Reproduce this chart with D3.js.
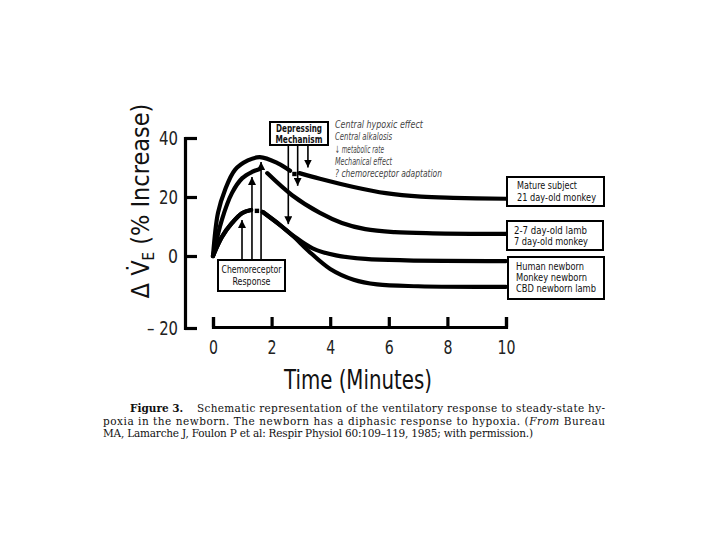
<!DOCTYPE html>
<html>
<head>
<meta charset="utf-8">
<script src="https://cdn.jsdelivr.net/npm/d3@7"></script>
<style>
  body { margin: 0; background: #fff; }
  svg { display: block; }
  .sans { font-family: "DejaVu Sans Condensed", "Liberation Sans", sans-serif; }
  .serif { font-family: "DejaVu Serif", "Liberation Serif", serif; }
</style>
</head>
<body>
<svg id="chart" width="720" height="540"></svg>
<script>
// 数据（时间：分钟，数值：通气量增加百分比）
const xTicks = [0, 2, 4, 6, 8, 10];
const yTicks = [-20, 0, 20, 40];

// null 表示曲线中的断开处
const matureSubject = [[0, 0], [0.17, 14.6], [0.41, 22.4], [0.75, 29.2], [1.19, 32.4], [1.6, 33.5], [2.2, 31.5], [2.63, 28.9],
  null, [2.95, 28.1], [3.65, 26.2], [4.8, 23.4], [5.9, 21.3], [7.1, 20.1], [8.2, 19.7], [10, 19.4]];
const lambMonkey = [[0, 0], [0.3, 12.2], [0.65, 21.4], [1.0, 26.4], [1.33, 28.5], [1.6, 29.5],
  null, [1.85, 28.1], [2.7, 20.6], [3.65, 14.6], [4.4, 11.2], [5.2, 9.1], [6.2, 8.1], [7.5, 7.7], [10, 7.5]];
const humanNewborn = [[0, 0], [0.3, 6.4], [0.65, 11.2], [1.0, 14.6], [1.3, 15.6],
  null, [1.7, 14.9], [2.3, 10.4], [2.75, 6.8], [3.4, 2.6], [4.2, 0.2], [5.2, -0.8], [6.6, -1.2], [10, -1.4]];
const cbdLamb = [[0, 0], [0.3, 6.4], [0.65, 11.2], [1.0, 14.6], [1.3, 15.6],
  null, [1.7, 14.9], [2.3, 10.4], [2.75, 6.6], [3.25, 1.8], [4.0, -3.6], [4.8, -6.6], [5.6, -7.9], [7.0, -8.4], [10, -8.6]];

// 曲线断开处的小方块
const breakMarks = [[2.78, 27.8], [1.5, 15.3]];

// 箭头：[t, 起点值, 终点值]
const chemoArrows = [[0.99, -1.1, 12.2], [1.33, -1.1, 26.8], [1.64, -1.1, 31.9]];
const depressArrows = [[2.57, 37.6, 10.8], [2.89, 37.6, 23.8], [3.24, 37.6, 30.0]];

const depressList = ["Central hypoxic effect", "Central alkalosis", "↓ metabolic rate", "Mechanical effect", "? chemoreceptor adaptation"];
const depressWidths = [88, 57, 49, 57, 107];
const legendGroups = [
  ["Mature subject", "21 day-old monkey"],
  ["2-7 day-old lamb", "7 day-old monkey"],
  ["Human newborn", "Monkey newborn", "CBD newborn lamb"]
];
const legendWidths = [[60, 79], [73, 74], [68, 71, 80]];

const svg = d3.select("#chart");

// 把文字压到指定宽度（原图是窄体字）
function fit(sel, w) {
    return sel.attr("textLength", w).attr("lengthAdjust", "spacingAndGlyphs");
}

// 比例尺（纵轴负值部分间距不同，用分段线性）
const x = d3.scaleLinear().domain([0, 10]).range([213, 506]);
const y = d3.scaleLinear().domain([-20, 0, 40]).range([328, 256, 138]);

// 纵轴
const yAxis = svg.append("g")
    .attr("class", "sans")
    .attr("transform", "translate(185,0)")
    .call(d3.axisLeft(y).tickValues(yTicks).tickSize(-12).tickSizeOuter(-12).tickPadding(7)
        .tickFormat(d => d < 0 ? "– " + Math.abs(d) : d));
yAxis.selectAll("path, line").attr("stroke", "#000").attr("stroke-width", 3.2);
yAxis.selectAll("text").attr("font-size", 19).attr("fill", "#222")
    .each(function (d) { fit(d3.select(this), d < 0 ? 31 : (d === 0 ? 10 : 19)); });

// 横轴
const xAxis = svg.append("g")
    .attr("class", "sans")
    .attr("transform", "translate(0,327)")
    .call(d3.axisBottom(x).tickValues(xTicks).tickSize(-10).tickSizeOuter(-10).tickPadding(14));
xAxis.selectAll("path, line").attr("stroke", "#000").attr("stroke-width", 3.2);
xAxis.selectAll("text").attr("font-size", 19).attr("fill", "#222")
    .each(function (d) { fit(d3.select(this), d >= 10 ? 18 : 9); });

// 轴标题
fit(svg.append("text")
    .attr("class", "sans")
    .attr("x", 358).attr("y", 389)
    .attr("text-anchor", "middle")
    .attr("font-size", 26)
    .attr("fill", "#111")
    .text("Time (Minutes)"), 148);

const yTitle = svg.append("text")
    .attr("class", "sans")
    .attr("transform", "translate(149,201) rotate(-90)")
    .attr("text-anchor", "middle")
    .attr("font-size", 25)
    .attr("fill", "#111");
yTitle.append("tspan").text("Δ  V\u0307");
yTitle.append("tspan").attr("font-size", 15).attr("dy", 5).text("E");
yTitle.append("tspan").attr("dy", -5).text("  (% Increase)");

// 曲线
const line = d3.line()
    .defined(d => d !== null)
    .x(d => x(d[0]))
    .y(d => y(d[1]))
    .curve(d3.curveCatmullRom.alpha(0.5));

[matureSubject, lambMonkey, humanNewborn, cbdLamb].forEach(series => {
    svg.append("path")
        .attr("d", line(series))
        .attr("fill", "none")
        .attr("stroke", "#000")
        .attr("stroke-width", 4.2)
        .attr("stroke-linecap", "round");
});

svg.selectAll(".break-mark")
    .data(breakMarks)
    .enter().append("rect")
    .attr("class", "break-mark")
    .attr("x", d => x(d[0]) - 2.2)
    .attr("y", d => y(d[1]) - 2.2)
    .attr("width", 4.4)
    .attr("height", 4.4)
    .attr("fill", "#000");

// 箭头标记
svg.append("defs").append("marker")
    .attr("id", "arrow")
    .attr("markerUnits", "userSpaceOnUse")
    .attr("viewBox", "0 0 10 10")
    .attr("refX", 10).attr("refY", 5)
    .attr("markerWidth", 8).attr("markerHeight", 8)
    .attr("orient", "auto")
    .append("path")
    .attr("d", "M0,0L10,5L0,10Z")
    .attr("fill", "#000");

svg.selectAll(".arrow")
    .data(chemoArrows.concat(depressArrows))
    .enter().append("line")
    .attr("class", "arrow")
    .attr("x1", d => x(d[0])).attr("x2", d => x(d[0]))
    .attr("y1", d => y(d[1])).attr("y2", d => y(d[2]))
    .attr("stroke", "#000")
    .attr("stroke-width", 1.6)
    .attr("marker-end", "url(#arrow)");

// 标注框
function labelBox(x0, y0, w, h, lines, widths, opts) {
    const g = svg.append("g").attr("class", "sans");
    g.append("rect")
        .attr("x", x0).attr("y", y0).attr("width", w).attr("height", h)
        .attr("fill", "#fff").attr("stroke", "#000").attr("stroke-width", 2);
    lines.forEach((t, i) => {
        fit(g.append("text")
            .attr("x", opts.anchor === "middle" ? x0 + w / 2 : x0 + opts.pad)
            .attr("y", y0 + opts.first + i * opts.step)
            .attr("text-anchor", opts.anchor)
            .attr("font-size", opts.size)
            .attr("font-weight", opts.weight || "normal")
            .attr("fill", "#111")
            .text(t), widths[i]);
    });
}

labelBox(270, 122, 58, 23, ["Depressing", "Mechanism"], [46, 47], { anchor: "middle", first: 10, step: 10.5, size: 10, weight: "bold" });
labelBox(218, 260, 67, 31, ["Chemoreceptor", "Response"], [60, 38], { anchor: "middle", first: 12.5, step: 12, size: 10 });

labelBox(507, 177, 97, 29, legendGroups[0], legendWidths[0], { anchor: "start", pad: 10, first: 12, step: 12, size: 10.5 });
labelBox(507, 221, 96, 29, legendGroups[1], legendWidths[1], { anchor: "start", pad: 7, first: 12.5, step: 11.5, size: 10.5 });
labelBox(508, 257, 96, 42, legendGroups[2], legendWidths[2], { anchor: "start", pad: 8, first: 13, step: 11, size: 10.5 });

// 压抑机制列表
svg.append("g").attr("class", "sans")
    .selectAll("text")
    .data(depressList)
    .enter().append("text")
    .attr("x", 335)
    .attr("y", (d, i) => 128 + i * 12.3)
    .attr("font-size", 10)
    .attr("font-style", "italic")
    .attr("fill", "#444")
    .text(d => d)
    .each(function (d, i) { fit(d3.select(this), depressWidths[i]); });

// 图注
const cap = svg.append("g").attr("class", "serif").attr("fill", "#111").attr("font-size", 10.5);
cap.append("text").attr("x", 130).attr("y", 412).attr("font-weight", "bold").text("Figure 3.");
cap.append("text").attr("x", 197).attr("y", 412)
    .attr("textLength", 408).attr("lengthAdjust", "spacing")
    .text("Schematic representation of the ventilatory response to steady-state hy-");
const cap2 = cap.append("text").attr("x", 103).attr("y", 424.5)
    .attr("textLength", 502).attr("lengthAdjust", "spacing");
cap2.append("tspan").text("poxia in the newborn. The newborn has a diphasic response to hypoxia. (");
cap2.append("tspan").attr("font-style", "italic").text("From");
cap2.append("tspan").text(" Bureau");
cap.append("text").attr("x", 103).attr("y", 436.5)
    .attr("textLength", 430).attr("lengthAdjust", "spacing")
    .text("MA, Lamarche J, Foulon P et al: Respir Physiol 60:109–119, 1985; with permission.)");
</script>
</body>
</html>
